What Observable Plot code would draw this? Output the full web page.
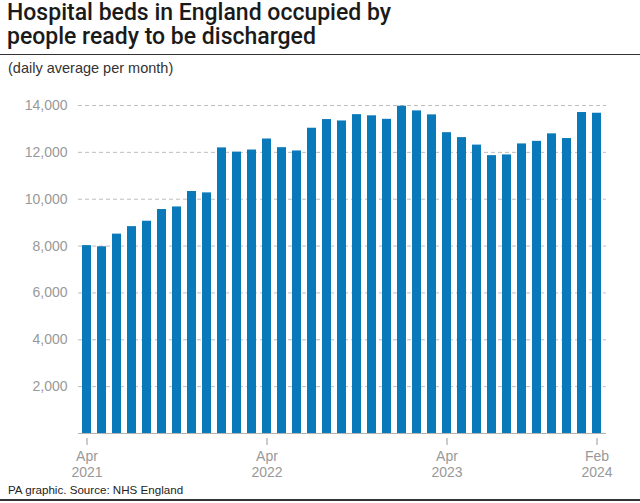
<!DOCTYPE html>
<html>
<head>
<meta charset="utf-8">
<script src="https://cdn.jsdelivr.net/npm/d3@7"></script>
<script src="https://cdn.jsdelivr.net/npm/@observablehq/plot@0.6"></script>
<style>
  html, body { margin: 0; padding: 0; background: #fff; }
  #wrap { position: relative; width: 640px; height: 503px; overflow: hidden; font-family: "Liberation Sans", Arial, sans-serif; }
  #title { position: absolute; left: 7px; top: 0.5px; font-family: Roboto, "Liberation Sans", sans-serif; font-weight: 500; font-size: 23px; line-height: 24.5px; color: #1a1a1a; letter-spacing: 0; white-space: nowrap; }
  #rule1 { position: absolute; left: 0; top: 54px; width: 640px; height: 0; border-top: 1.6px solid #333; }
  #subtitle { position: absolute; left: 8px; top: 61px; font-size: 14.5px; line-height: 14.5px; color: #333; white-space: nowrap; }
  #chart { position: absolute; left: 0; top: 80px; }
  #footer { position: absolute; left: 8px; top: 484px; font-size: 11.6px; line-height: 11.6px; color: #222; white-space: nowrap; }
  #rule2 { position: absolute; left: 0; top: 498.5px; width: 640px; height: 0; border-top: 2px solid #333; }
</style>
</head>
<body>
<div id="wrap">
  <div id="title">Hospital beds in England occupied by<br>people ready to be discharged</div>
  <div id="rule1"></div>
  <div id="subtitle">(daily average per month)</div>
  <div id="chart"></div>
  <div id="footer">PA graphic. Source: NHS England</div>
  <div id="rule2"></div>
</div>
<script>
const months = [
  "2021-04","2021-05","2021-06","2021-07","2021-08","2021-09","2021-10","2021-11","2021-12",
  "2022-01","2022-02","2022-03","2022-04","2022-05","2022-06","2022-07","2022-08","2022-09",
  "2022-10","2022-11","2022-12","2023-01","2023-02","2023-03","2023-04","2023-05","2023-06",
  "2023-07","2023-08","2023-09","2023-10","2023-11","2023-12","2024-01","2024-02"
];
const beds = [
  8020, 7970, 8510, 8830, 9060, 9560, 9670, 10330, 10270,
  12190, 12010, 12100, 12570, 12200, 12060, 13030, 13400, 13340,
  13610, 13560, 13410, 13970, 13770, 13600, 12840, 12630, 12310,
  11860, 11890, 12360, 12470, 12790, 12590, 13700, 13670
];
const xTicks = ["2021-04", "2022-04", "2023-04", "2024-02"];
const xTickLabels = ["Apr\n2021", "Apr\n2022", "Apr\n2023", "Feb\n2024"];
const yTicks = [2000, 4000, 6000, 8000, 10000, 12000, 14000];

const data = months.map((m, i) => ({month: m, value: beds[i]}));

const chart = Plot.plot({
  width: 640,
  height: 400,
  marginLeft: 78,
  marginRight: 34,
  marginTop: 25,
  marginBottom: 42,
  style: { fontFamily: "'Liberation Sans', Arial, sans-serif", fontSize: "14px", background: "transparent" },
  x: { type: "band", domain: months, paddingInner: 0.38, paddingOuter: 0.19, label: null },
  y: { domain: [0, 14000], insetBottom: 5, label: null },
  marks: [
    Plot.ruleY(yTicks, { stroke: "#bdbdbd", strokeWidth: 1, strokeDasharray: "4,3" }),
    Plot.barY(data, { x: "month", y: "value", fill: "#0a79b9" }),
    Plot.ruleY([0], { stroke: "#b3b3b3", strokeWidth: 1 }),
    Plot.axisY({ ticks: yTicks, tickSize: 0, tickPadding: 11, tickFormat: d3.format(","), color: "#999", label: null }),
    Plot.axisX({ ticks: xTicks, tickSize: 7, tickPadding: 4, lineHeight: 1.15, label: null,
      tickFormat: d => xTickLabels[xTicks.indexOf(d)], color: "#999" })
  ]
});
document.getElementById("chart").appendChild(chart);
</script>
</body>
</html>
